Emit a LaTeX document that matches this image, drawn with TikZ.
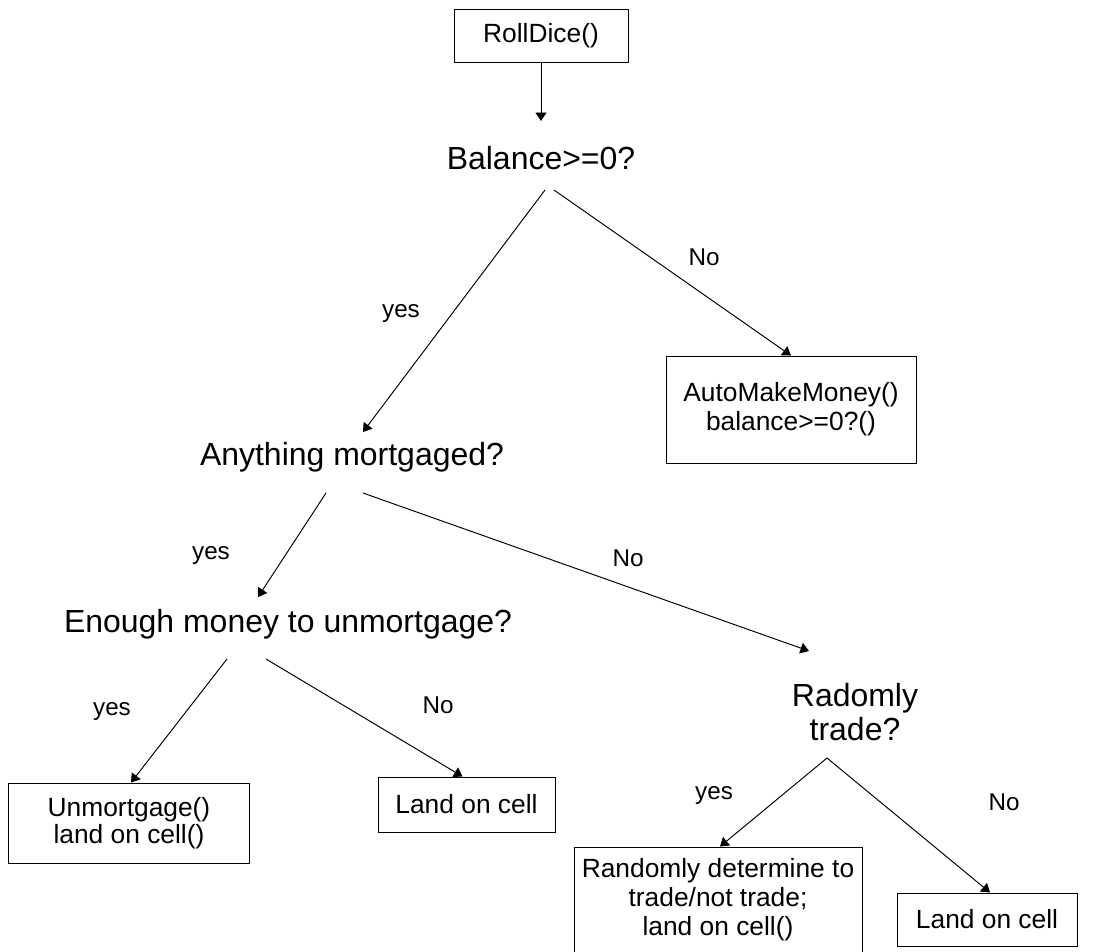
\documentclass[tikz,border=0pt]{standalone}
\usepackage{fontspec}
\setmainfont{Liberation Sans}
\usetikzlibrary{arrows.meta, calc}

\begin{document}
\begin{tikzpicture}[
    x=0.02cm, y=-0.02cm,
    line width=0.55pt,
    box/.style={draw, inner sep=0pt, align=center, fill=white, font=\fontsize{15}{16.5}\selectfont},
    quest/.style={inner sep=0pt, align=center, font=\fontsize{18.2}{19.5}\selectfont},
    lbl/.style={inner sep=0pt, font=\fontsize{13.8}{16}\selectfont},
    arr/.style={-{Triangle[length=1.7mm, width=2.2mm]}}
]
    \useasboundingbox (0,0) rectangle (1111,951);
    \clip (0,0) rectangle (1111,951);

    % Boxes
    \node[box, minimum width=3.48cm, minimum height=1.06cm] (roll) at (541,35.5) {RollDice()};
    \node[box, minimum width=5cm, minimum height=2.14cm] (auto) at (791,409.5) {AutoMakeMoney()\\balance>=0?()};
    \node[box, minimum width=4.84cm, minimum height=1.6cm, font=\fontsize{15}{15.5}\selectfont] (unm) at (129,823) {Unmortgage()\\land on cell()};
    \node[box, minimum width=3.54cm, minimum height=1.1cm] (land1) at (466.5,804.5) {Land on cell};
    \node[box, minimum width=5.76cm, minimum height=2.12cm] (rand) at (718,900) {Randomly determine to\\trade/not trade;\\land on cell()};
    \node[box, minimum width=3.6cm, minimum height=1.06cm] (land2) at (987,919.5) {Land on cell};

    % Questions
    \node[quest, anchor=base] (bal) at (541,169) {Balance>=0?};
    \node[quest, anchor=base] (any) at (352,465) {Anything mortgaged?};
    \node[quest, anchor=base] (enough) at (288,632) {Enough money to unmortgage?};
    \node[quest] (rad) at (855,712) {Radomly\\trade?};

    % Connections
    \draw[arr] (roll.south) -- ($(bal.base)+(0,-48)$);
    \draw[arr] ($(bal.base)+(4,21)$) -- ($(any.base)+(11,-33)$);
    \draw[arr] ($(bal.base)+(13,21)$) -- (auto.north);
    \draw[arr] ($(any.base)+(-26,28)$) -- ($(enough.base)+(-30,-35)$);
    \draw[arr] ($(any.base)+(11,28)$) -- ($(rad.center)+(-46,-61)$);
    \draw[arr] ($(enough.base)+(-61,27)$) -- ($(unm.north)+(2,0)$);
    \draw[arr] ($(enough.base)+(-22,27)$) -- ($(land1.north)+(-4,0)$);
    \draw[arr] ($(rad.center)+(-28,46)$) -- ($(rand.north)+(2,0)$);
    \draw[arr] ($(rad.center)+(-28,46)$) -- ($(land2.north)+(3,0)$);

    % Labels
    \node[lbl] (yes1) at (401,313) {yes};
    \node[lbl] (no1) at (704,257) {No};
    \node[lbl] (yes2) at (211,555) {yes};
    \node[lbl] (no2) at (628,558) {No};
    \node[lbl] (yes3) at (112,711) {yes};
    \node[lbl] (no3) at (438,705) {No};
    \node[lbl] (yes4) at (714,795) {yes};
    \node[lbl] (no4) at (1004,802) {No};

\end{tikzpicture}
\end{document}
